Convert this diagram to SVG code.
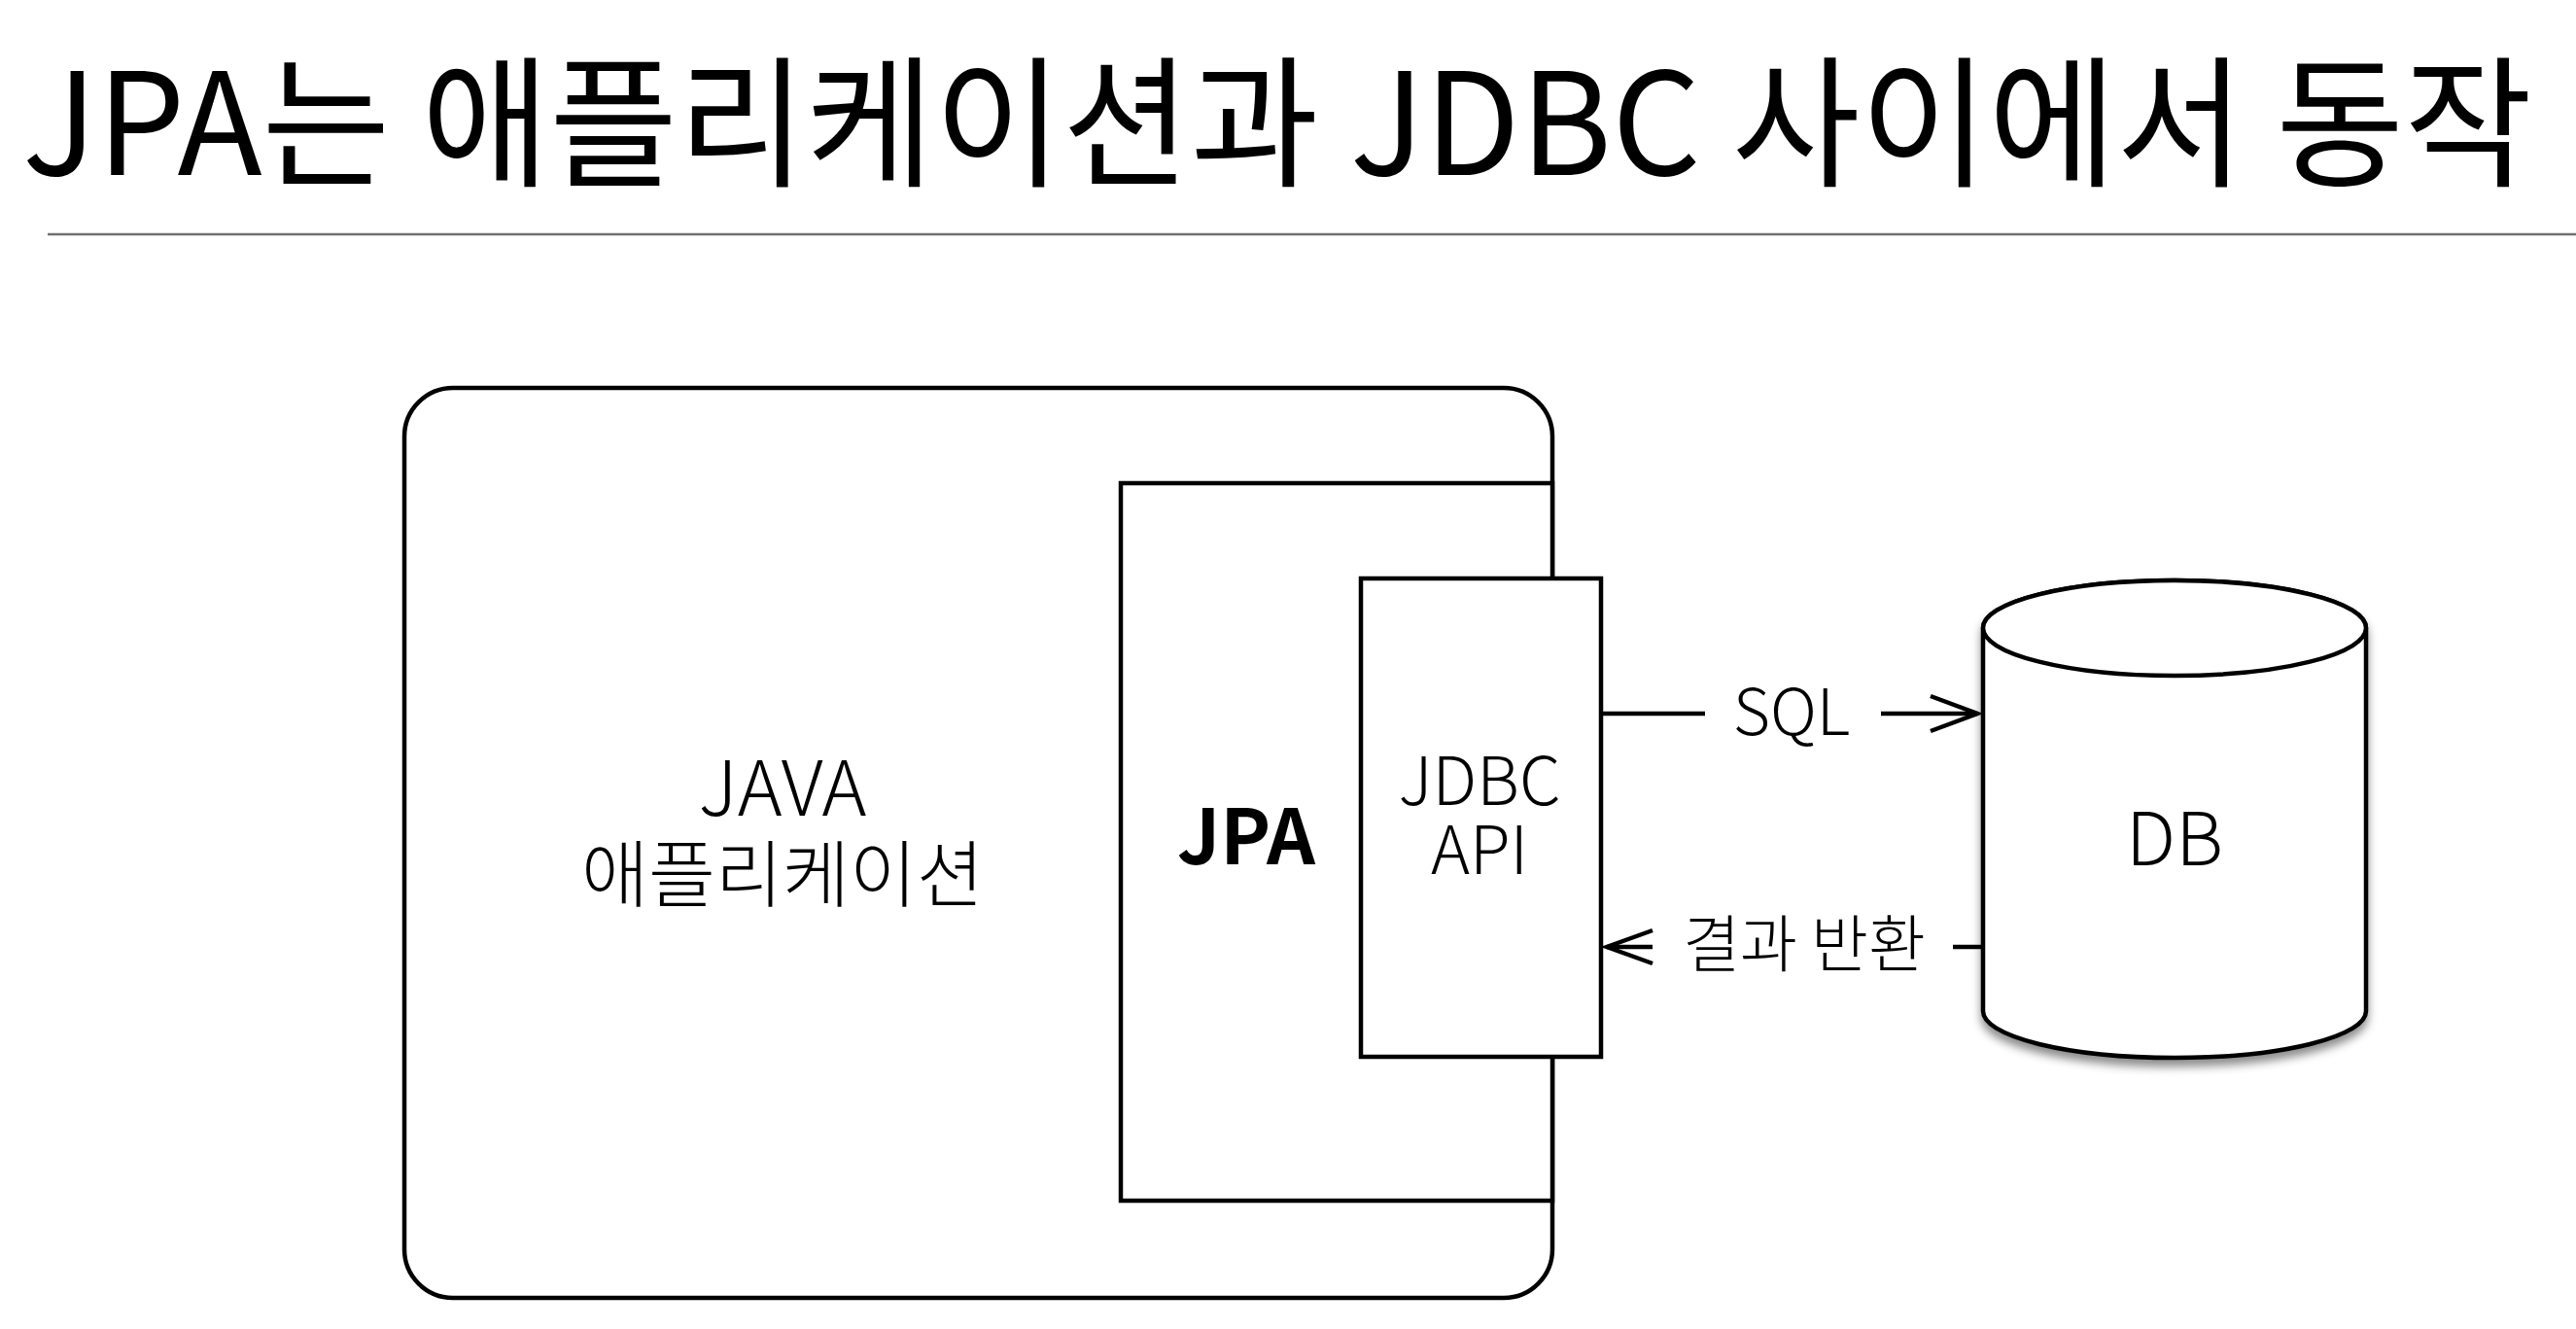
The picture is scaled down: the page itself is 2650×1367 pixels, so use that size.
<svg xmlns="http://www.w3.org/2000/svg" width="2650" height="1367" viewBox="0 0 2650 1367">
  <style>
    .t { font-family: "Noto Sans CJK KR", "Liberation Sans", sans-serif; fill: #000; }
    .box { fill: #fff; stroke: #000; stroke-width: 4.5; }
    .ln { stroke: #000; stroke-width: 4.5; fill: none; }
  </style>
  <defs>
    <filter id="shadow" x="-20%" y="-20%" width="140%" height="140%">
      <feDropShadow dx="0" dy="7" stdDeviation="5" flood-color="#000" flood-opacity="0.45"/>
    </filter>
  </defs>
  <rect width="2650" height="1367" fill="#fff"/>

  <g id="title">
    <text class="t" x="23" y="180" font-size="146" font-weight="400" textLength="2582" lengthAdjust="spacingAndGlyphs">JPA는 애플리케이션과 JDBC 사이에서 동작</text>
    <line x1="49" y1="241" x2="2650" y2="241" stroke="#707070" stroke-width="2.5"/>
  </g>

  <g id="java-app">
    <rect class="box" x="416" y="399" width="1181" height="936" rx="50" ry="50"/>
    <text class="t" x="805" y="839" font-size="78" font-weight="300" text-anchor="middle">JAVA</text>
    <text class="t" x="805" y="927" font-size="75" font-weight="300" text-anchor="middle">애플리케이션</text>
  </g>

  <g id="jpa">
    <rect class="box" x="1153" y="497" width="444" height="738"/>
    <text class="t" x="1282" y="889" font-size="78" font-weight="700" text-anchor="middle">JPA</text>
  </g>

  <g id="jdbc-api">
    <rect class="box" x="1400" y="595" width="247" height="492"/>
    <text class="t" x="1522" y="828" font-size="68" font-weight="300" text-anchor="middle">JDBC</text>
    <text class="t" x="1522" y="899" font-size="68" font-weight="300" text-anchor="middle">API</text>
  </g>

  <g id="db">
    <path class="box" filter="url(#shadow)" d="M2040 646 L2040 1040 A197 48 0 0 0 2434 1040 L2434 646 A197 49 0 0 0 2040 646 Z"/>
    <ellipse class="box" cx="2237" cy="646" rx="197" ry="49"/>
    <text class="t" x="2237" y="890" font-size="76" font-weight="300" text-anchor="middle">DB</text>
  </g>

  <g id="connectors">
    <line class="ln" x1="1647" y1="734" x2="1754" y2="734"/>
    <text class="t" x="1843" y="756" font-size="66" font-weight="300" text-anchor="middle">SQL</text>
    <line class="ln" x1="1935" y1="734" x2="2034" y2="734"/>
    <polyline class="ln" points="1986,716 2034,734 1986,752"/>

    <line class="ln" x1="2009" y1="974" x2="2040" y2="974"/>
    <text class="t" x="1856" y="994" font-size="64" font-weight="300" text-anchor="middle">결과 반환</text>
    <line class="ln" x1="1653" y1="974" x2="1700" y2="974"/>
    <polyline class="ln" points="1700,957 1653,974 1700,991"/>
  </g>
</svg>
